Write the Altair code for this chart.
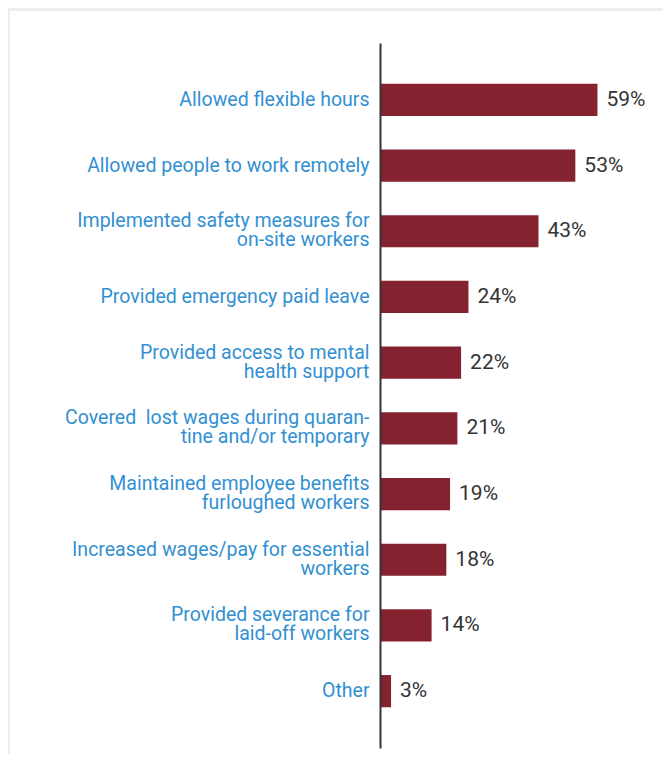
import altair as alt
import pandas as pd

categories = [
    "Allowed flexible hours",
    "Allowed people to work remotely",
    "Implemented safety measures for\non-site workers",
    "Provided emergency paid leave",
    "Provided access to mental\nhealth support",
    "Covered\u00a0 lost wages during quaran-\ntine and/or temporary",
    "Maintained employee benefits\nfurloughed workers",
    "Increased wages/pay for essential\nworkers",
    "Provided severance for\nlaid-off workers",
    "Other",
]
values = [59, 53, 43, 24, 22, 21, 19, 18, 14, 3]

df = pd.DataFrame({"category": categories, "pct": values})

FONT = "Roboto"
BLUE = "#3290d2"
BAR = "#85222f"
DARK = "#333333"

base = alt.Chart(df).encode(
    y=alt.Y(
        "category:N",
        sort=categories,
        scale=alt.Scale(paddingInner=0.51, paddingOuter=0.62),
        axis=alt.Axis(
            title=None, ticks=False, grid=False,
            domainColor=DARK, domainWidth=2,
            labelColor=BLUE, labelFontSize=19.5, labelFont=FONT,
            labelPadding=11, labelLimit=400,
            labelExpr="split(datum.label, '\\n')",
            labelLineHeight=19, labelAlign="right",
            labelBaseline={
                "condition": {"test": "indexof(datum.label, '\\n') >= 0", "value": "line-bottom"},
                "value": "middle",
            },
            labelOverlap=False, zindex=2,
        ),
    ),
    x=alt.X("pct:Q", scale=alt.Scale(domain=[0, 70]), axis=None),
)

bars = base.mark_bar(color=BAR)
text = base.transform_calculate(lbl="datum.pct + '%'").mark_text(
    align="left", baseline="middle", dx=9, fontSize=21, font=FONT, color=DARK
).encode(text="lbl:N")

bg = alt.Chart(pd.DataFrame({"z": [0]})).mark_rect(color="white").encode(
    x=alt.value(-370), x2=alt.value(283), y=alt.value(-32), y2=alt.value(711)
)

chart = alt.layer(bg, bars, text).properties(
    width=258, height=705,
    autosize=alt.AutoSizeParams(type="none"),
    padding={"left": 372, "top": 35, "right": 25, "bottom": 6},
    background="#ecedef",
).configure_view(stroke=None)

chart.save("out.html", embed_options={"renderer": "svg", "actions": False})
